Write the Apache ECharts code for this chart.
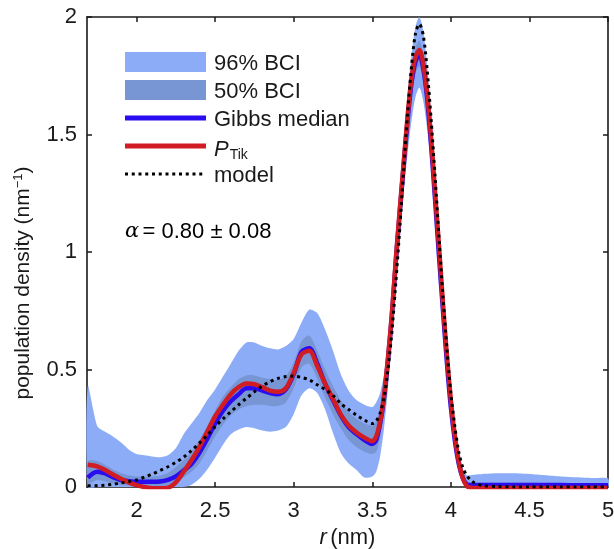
<!DOCTYPE html>
<html>
<head>
<meta charset="utf-8">
<script src="https://cdn.jsdelivr.net/npm/echarts@6/dist/echarts.min.js"></script>
<style>
html,body{margin:0;padding:0;background:#fff;}
#chart{width:614px;height:549px;}
</style>
</head>
<body>
<div id="chart"></div>
<script>
// r (nm)
const xs = [1.69, 1.75, 1.80, 1.85, 1.90, 1.95, 2.00, 2.05, 2.10, 2.15, 2.20, 2.25, 2.30, 2.35, 2.40, 2.45, 2.50, 2.55, 2.60, 2.65, 2.70, 2.75, 2.80, 2.85, 2.90, 2.95, 3.00, 3.05, 3.10, 3.15, 3.20, 3.25, 3.30, 3.35, 3.40, 3.45, 3.50,
  3.525, 3.55, 3.575, 3.60, 3.625, 3.65, 3.675, 3.70, 3.725, 3.75, 3.775, 3.80, 3.825, 3.85, 3.875, 3.90, 3.925, 3.95, 3.975, 4.00, 4.025, 4.05, 4.075, 4.10, 4.125, 4.15,
  4.20, 4.30, 4.40, 4.50, 4.60, 4.70, 4.80, 4.90, 5.00];

// P_Tik
const pTik = [0.095, 0.088, 0.072, 0.053, 0.035, 0.02, 0.008, 0.0, -0.005, -0.005, -0.003, 0.02, 0.065, 0.115, 0.17, 0.235, 0.30, 0.35, 0.395, 0.425, 0.44, 0.437, 0.425, 0.41, 0.405, 0.42, 0.485, 0.565, 0.58, 0.515, 0.44, 0.375, 0.308, 0.262, 0.232, 0.21, 0.195,
  0.215, 0.28, 0.39, 0.55, 0.74, 0.97, 1.18, 1.38, 1.58, 1.74, 1.83, 1.86, 1.80, 1.67, 1.48, 1.25, 1.02, 0.78, 0.56, 0.37, 0.22, 0.11, 0.04, 0.005, -0.003, -0.004,
  -0.004, -0.004, -0.004, -0.004, -0.004, -0.004, -0.004, -0.004, -0.004];

// Gibbs median
const gibbs = [0.04, 0.065, 0.058, 0.042, 0.03, 0.025, 0.022, 0.022, 0.022, 0.023, 0.03, 0.045, 0.07, 0.098, 0.145, 0.205, 0.27, 0.325, 0.365, 0.395, 0.42, 0.42, 0.41, 0.40, 0.395, 0.415, 0.48, 0.575, 0.59, 0.525, 0.44, 0.37, 0.305, 0.255, 0.225, 0.20, 0.183,
  0.20, 0.27, 0.38, 0.54, 0.73, 0.96, 1.17, 1.37, 1.56, 1.72, 1.81, 1.84, 1.78, 1.65, 1.45, 1.22, 0.98, 0.75, 0.53, 0.34, 0.20, 0.10, 0.04, 0.012, 0.008, 0.008,
  0.008, 0.008, 0.008, 0.008, 0.008, 0.008, 0.007, 0.007, 0.007];

// model
const model = [0.005, 0.006, 0.008, 0.012, 0.017, 0.023, 0.03, 0.042, 0.055, 0.07, 0.086, 0.105, 0.127, 0.155, 0.187, 0.22, 0.257, 0.29, 0.32, 0.35, 0.378, 0.405, 0.43, 0.448, 0.462, 0.47, 0.472, 0.466, 0.456, 0.435, 0.415, 0.39, 0.355, 0.33, 0.306, 0.285, 0.27,
  0.28, 0.315, 0.38, 0.50, 0.66, 0.87, 1.10, 1.35, 1.59, 1.79, 1.93, 1.97, 1.92, 1.77, 1.56, 1.32, 1.06, 0.81, 0.59, 0.40, 0.26, 0.15, 0.085, 0.05, 0.03, 0.018,
  0.007, 0.002, 0.0, 0.0, 0.0, 0.0, 0.0, 0.0, 0.0];

// 96% BCI bounds
const bci96Hi = [0.43, 0.26, 0.235, 0.215, 0.19, 0.16, 0.14, 0.135, 0.13, 0.127, 0.135, 0.165, 0.225, 0.27, 0.315, 0.37, 0.415, 0.47, 0.525, 0.58, 0.615, 0.615, 0.60, 0.59, 0.585, 0.60, 0.63, 0.70, 0.755, 0.74, 0.67, 0.58, 0.48, 0.41, 0.37, 0.35, 0.34,
  0.36, 0.40, 0.48, 0.62, 0.82, 1.04, 1.26, 1.47, 1.67, 1.84, 1.96, 2.0, 1.94, 1.79, 1.58, 1.34, 1.10, 0.85, 0.63, 0.43, 0.27, 0.15, 0.08, 0.05, 0.05, 0.052,
  0.055, 0.058, 0.058, 0.055, 0.05, 0.045, 0.041, 0.038, 0.037];
const bci96Lo = [0, 0, 0, 0, 0, 0, 0, 0, 0, 0, 0, 0, 0, 0.01, 0.035, 0.075, 0.125, 0.18, 0.225, 0.245, 0.255, 0.25, 0.24, 0.235, 0.24, 0.255, 0.31, 0.39, 0.42, 0.40, 0.33, 0.23, 0.145, 0.10, 0.072, 0.04, 0.045,
  0.065, 0.13, 0.25, 0.42, 0.62, 0.85, 1.06, 1.25, 1.42, 1.56, 1.66, 1.70, 1.64, 1.52, 1.36, 1.14, 0.92, 0.70, 0.49, 0.31, 0.17, 0.07, 0.02, 0, 0, 0,
  0, 0, 0, 0, 0, 0, 0, 0, 0];

// 50% BCI bounds
const bci50Hi = [0.11, 0.11, 0.095, 0.075, 0.06, 0.05, 0.045, 0.045, 0.045, 0.048, 0.06, 0.085, 0.115, 0.15, 0.20, 0.26, 0.325, 0.385, 0.425, 0.46, 0.475, 0.475, 0.465, 0.46, 0.455, 0.47, 0.53, 0.62, 0.645, 0.58, 0.50, 0.43, 0.37, 0.32, 0.29, 0.27, 0.262,
  0.28, 0.33, 0.43, 0.58, 0.77, 0.99, 1.20, 1.40, 1.60, 1.77, 1.87, 1.90, 1.84, 1.70, 1.50, 1.27, 1.04, 0.80, 0.58, 0.39, 0.24, 0.12, 0.05, 0.02, 0.018, 0.018,
  0.018, 0.018, 0.018, 0.018, 0.017, 0.016, 0.016, 0.015, 0.015];
const bci50Lo = [0.015, 0.03, 0.025, 0.015, 0.008, 0.005, 0.003, 0.003, 0.003, 0.004, 0.008, 0.02, 0.04, 0.065, 0.10, 0.155, 0.215, 0.265, 0.305, 0.33, 0.345, 0.35, 0.35, 0.345, 0.345, 0.36, 0.42, 0.51, 0.525, 0.46, 0.38, 0.31, 0.25, 0.20, 0.17, 0.15, 0.14,
  0.15, 0.21, 0.33, 0.49, 0.69, 0.92, 1.13, 1.33, 1.51, 1.66, 1.76, 1.79, 1.72, 1.59, 1.40, 1.17, 0.94, 0.71, 0.50, 0.32, 0.18, 0.08, 0.03, 0.005, 0, 0,
  0, 0, 0, 0, 0, 0, 0, 0, 0];

const xTicks = [2, 2.5, 3, 3.5, 4, 4.5, 5];
const yTicks = [0, 0.5, 1, 1.5, 2];

const FONT = 'Liberation Sans';
const FS = 22;
const INK = '#1a1a1a';
const C96 = '#8cacf7';
const C50 = '#7895d4';
const CBLUE = '#2a0cf0';
const CRED = '#d01c22';

function pairs(ys) { return xs.map((x, i) => [x, ys[i]]); }

function bandRender(lo, hi, color) {
  return function (params, api) {
    if (params.dataIndex !== 0) return null;
    const pts = [];
    for (let i = 0; i < xs.length; i++) pts.push(api.coord([xs[i], hi[i]]));
    for (let i = xs.length - 1; i >= 0; i--) pts.push(api.coord([xs[i], lo[i]]));
    return { type: 'polygon', silent: true, shape: { points: pts, smooth: 0.25 }, style: { fill: color } };
  };
}

const chart = echarts.init(document.getElementById('chart'), null, { renderer: 'canvas' });

const tickStyle = { show: true, inside: true, length: 5, lineStyle: { color: INK, width: 1.5 } };
const lineStyleAxis = { show: true, onZero: false, lineStyle: { color: INK, width: 1.6 } };

const legendY = [62, 90, 118, 146, 174];
const legendX0 = 125, legendX1 = 206, legendTX = 214;

chart.setOption({
  animation: false,
  backgroundColor: '#ffffff',
  textStyle: { fontFamily: FONT },
  grid: { left: 87, right: 6, top: 17, bottom: 62, containLabel: false, outerBoundsMode: 'none' },
  xAxis: [{
    type: 'value', min: 1.685, max: 5, position: 'bottom',
    axisLine: lineStyleAxis,
    axisTick: Object.assign({ customValues: xTicks }, tickStyle),
    axisLabel: { customValues: xTicks, fontSize: FS, color: INK, margin: 13, fontFamily: FONT },
    splitLine: { show: false },
    name: '{i|r} {n|(nm)}', nameLocation: 'middle', nameGap: 40,
    nameTextStyle: {
      rich: {
        i: { fontFamily: FONT, fontStyle: 'italic', fontSize: FS, color: INK },
        n: { fontFamily: FONT, fontSize: FS, color: INK }
      }
    }
  }, {
    type: 'value', min: 1.685, max: 5, position: 'top',
    axisLine: lineStyleAxis,
    axisTick: Object.assign({ customValues: xTicks }, tickStyle),
    axisLabel: { show: false },
    splitLine: { show: false }
  }],
  yAxis: [{
    type: 'value', min: 0, max: 2, interval: 0.5, position: 'left',
    axisLine: lineStyleAxis,
    axisTick: tickStyle,
    axisLabel: { fontSize: FS, color: INK, margin: 10, fontFamily: FONT },
    splitLine: { show: false },
    name: '{n|population density (nm}{s|−1}{n|)}', nameLocation: 'middle', nameGap: 52, nameRotate: 90,
    nameTextStyle: {
      padding: [0, 62, 0, 0],
      rich: {
        n: { fontFamily: FONT, fontSize: FS - 1, color: INK },
        s: { fontFamily: FONT, fontSize: 13, color: INK, padding: [0, 0, 10, 0] }
      }
    }
  }, {
    type: 'value', min: 0, max: 2, interval: 0.5, position: 'right',
    axisLine: lineStyleAxis,
    axisTick: tickStyle,
    axisLabel: { show: false },
    splitLine: { show: false }
  }],
  series: [
    { name: '96% BCI', type: 'custom', xAxisIndex: 0, yAxisIndex: 0, data: [[xs[0], bci96Lo[0]]], renderItem: bandRender(bci96Lo, bci96Hi, C96), z: 1 },
    { name: '50% BCI', type: 'custom', xAxisIndex: 0, yAxisIndex: 0, data: [[xs[0], bci50Lo[0]]], renderItem: bandRender(bci50Lo, bci50Hi, C50), z: 2 },
    { name: 'Gibbs median', type: 'line', data: pairs(gibbs), smooth: 0.3, showSymbol: false, symbol: 'none', clip: true,
      lineStyle: { color: CBLUE, width: 4.5 }, z: 3 },
    { name: 'P_Tik', type: 'line', data: pairs(pTik), smooth: 0.3, showSymbol: false, symbol: 'none', clip: true,
      lineStyle: { color: CRED, width: 4.5 }, z: 4 },
    { name: 'model', type: 'line', data: pairs(model), smooth: 0.3, showSymbol: false, symbol: 'none', clip: true,
      lineStyle: { color: '#000000', width: 3, type: [3, 3.8], cap: 'butt' }, z: 5 }
  ],
  graphic: [
    { type: 'rect', shape: { x: legendX0, y: legendY[0] - 10, width: legendX1 - legendX0, height: 20 }, style: { fill: C96 }, z: 10 },
    { type: 'rect', shape: { x: legendX0, y: legendY[1] - 10, width: legendX1 - legendX0, height: 20 }, style: { fill: C50 }, z: 10 },
    { type: 'line', shape: { x1: legendX0, y1: legendY[2], x2: legendX1, y2: legendY[2] }, style: { stroke: CBLUE, lineWidth: 5 }, z: 10 },
    { type: 'line', shape: { x1: legendX0, y1: legendY[3], x2: legendX1, y2: legendY[3] }, style: { stroke: CRED, lineWidth: 5 }, z: 10 },
    { type: 'line', shape: { x1: legendX0, y1: legendY[4], x2: legendX1, y2: legendY[4] }, style: { stroke: '#000', lineWidth: 3, lineDash: [3, 3.75] }, z: 10 },
    { type: 'text', x: legendTX, y: legendY[0] + 2, style: { text: '96% BCI', fontFamily: FONT, fontSize: FS, fill: INK, verticalAlign: 'middle' }, z: 10 },
    { type: 'text', x: legendTX, y: legendY[1] + 2, style: { text: '50% BCI', fontFamily: FONT, fontSize: FS, fill: INK, verticalAlign: 'middle' }, z: 10 },
    { type: 'text', x: legendTX, y: legendY[2] + 2, style: { text: 'Gibbs median', fontFamily: FONT, fontSize: FS, fill: INK, verticalAlign: 'middle' }, z: 10 },
    { type: 'text', x: legendTX, y: legendY[3] + 4, style: {
        text: '{p|P}{s|Tik}', verticalAlign: 'middle',
        rich: {
          p: { fontFamily: FONT, fontStyle: 'italic', fontSize: FS, fill: INK, color: INK },
          s: { fontFamily: FONT, fontSize: 14, fill: INK, color: INK, padding: [10, 0, 0, 1] }
        } }, z: 10 },
    { type: 'text', x: legendTX, y: legendY[4] + 2, style: { text: 'model', fontFamily: FONT, fontSize: FS, fill: INK, verticalAlign: 'middle' }, z: 10 },
    { type: 'text', x: 125, y: 232, style: {
        text: '{a|α} {b|= 0.80 ± 0.08}', verticalAlign: 'middle',
        rich: {
          a: { fontFamily: 'DejaVu Serif', fontStyle: 'italic', fontSize: FS - 1, color: INK },
          b: { fontFamily: FONT, fontSize: FS, color: INK }
        } }, z: 10 }
  ]
});
</script>
</body>
</html>
